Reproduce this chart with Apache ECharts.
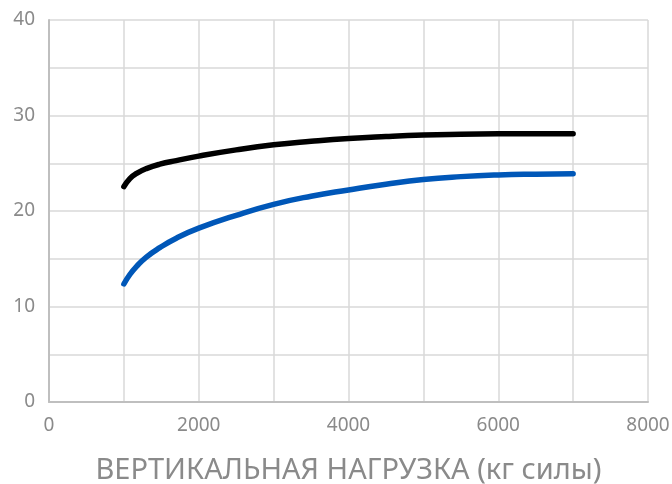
<!DOCTYPE html>
<html style="height: 100%">
<head>
    <meta charset="utf-8">
    <script src="https://cdn.jsdelivr.net/npm/echarts@6/dist/echarts.min.js"></script>
</head>
<body style="height: 100%; margin: 0">
    <div id="container" style="width: 672px; height: 484px"></div>
<script type="text/javascript">
    var loads = [1000, 1080, 1170, 1300, 1480, 1700, 2000, 2500, 3000, 3500, 4000, 4500, 5000, 5500, 6000, 6500, 7000];
    var blackValues = [22.55, 23.4, 23.94, 24.44, 24.9, 25.28, 25.75, 26.4, 26.93, 27.3, 27.6, 27.8, 27.95, 28.03, 28.08, 28.1, 28.1];
    var blueValues = [12.36, 13.35, 14.2, 15.18, 16.16, 17.15, 18.2, 19.55, 20.7, 21.55, 22.2, 22.8, 23.3, 23.6, 23.78, 23.86, 23.9];
    var xAxisName = 'ВЕРТИКАЛЬНАЯ НАГРУЗКА (кг силы)';

    function pairs(xs, ys) {
        var out = [];
        for (var i = 0; i < xs.length; i++) out.push([xs[i], ys[i]]);
        return out;
    }

    var dom = document.getElementById('container');
    var myChart = echarts.init(dom);
    var labelColor = '#8a8a8a';
    var font = 'Noto Sans';

    var option = {
        animation: false,
        textStyle: { fontFamily: font },
        grid: { left: 49, right: 24, top: 20, bottom: 82, containLabel: false, outerBoundsMode: 'none' },
        xAxis: {
            type: 'value',
            min: 0,
            max: 8000,
            interval: 1000,
            name: xAxisName,
            nameLocation: 'middle',
            nameGap: 54,
            nameTextStyle: { color: labelColor, fontSize: 29, fontFamily: font },
            axisLine: { show: true, lineStyle: { color: '#bfbfbf', width: 2 } },
            axisTick: { show: false },
            axisLabel: {
                color: labelColor, fontSize: 19, margin: 14, fontFamily: font,
                formatter: function (v) { return v % 2000 === 0 ? String(v) : ''; }
            },
            splitLine: { show: true, lineStyle: { color: '#d9d9d9', width: 1.5 } }
        },
        yAxis: {
            type: 'value',
            min: 0,
            max: 40,
            interval: 5,
            axisLine: { show: true, lineStyle: { color: '#bfbfbf', width: 2 } },
            axisTick: { show: false },
            axisLabel: {
                color: labelColor, fontSize: 19, margin: 14, fontFamily: font,
                formatter: function (v) { return v % 10 === 0 ? String(v) : ''; }
            },
            splitLine: { show: true, lineStyle: { color: '#d9d9d9', width: 1.5 } }
        },
        series: [
            {
                type: 'line',
                data: pairs(loads, blackValues),
                smooth: 0.5,
                showSymbol: false,
                lineStyle: { color: '#000000', width: 5.5, cap: 'round', join: 'round' }
            },
            {
                type: 'line',
                data: pairs(loads, blueValues),
                smooth: 0.5,
                showSymbol: false,
                lineStyle: { color: '#0057b8', width: 5.5, cap: 'round', join: 'round' }
            }
        ]
    };

    myChart.setOption(option);
</script>
</body>
</html>
